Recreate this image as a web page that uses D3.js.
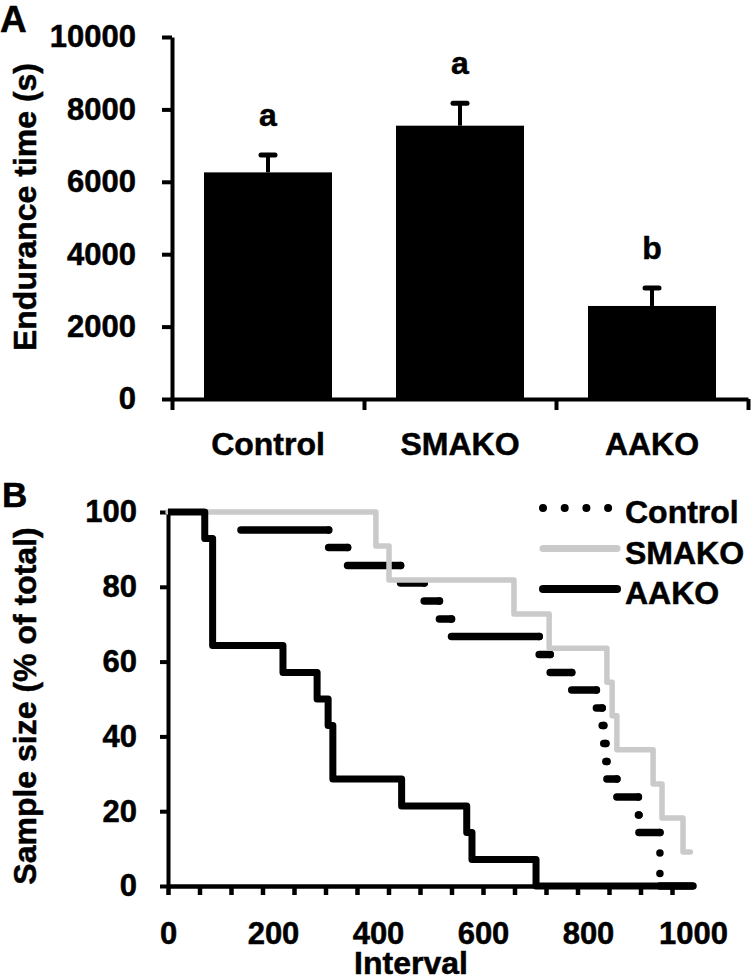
<!DOCTYPE html>
<html>
<head>
<meta charset="utf-8">
<script src="https://cdn.jsdelivr.net/npm/d3@7"></script>
<style>
  body { margin: 0; background: #ffffff; }
  svg { display: block; }
  text { font-family: "Liberation Sans", Arial, Helvetica, sans-serif; font-weight: bold; fill: #000; stroke: #000; stroke-width: 0.5px; }
</style>
</head>
<body>
<script>
// ---------- Panel A data ----------
const categories = ["Control", "SMAKO", "AAKO"];
const meanEndurance = [6260, 7550, 2570];
const errEndurance = [510, 650, 525];
const sigLetters = ["a", "a", "b"];
const yTicksA = [0, 2000, 4000, 6000, 8000, 10000];

// ---------- Panel B data (step curves: interval at which each level starts, % remaining) ----------
const controlTime = [139, 306, 342, 443, 488, 517, 540, 707, 728, 769, 816, 827, 830, 834, 836, 855, 896, 897, 937];
const controlPct  = [95.2, 90.5, 85.7, 81.0, 76.2, 71.4, 66.7, 61.9, 57.1, 52.4, 47.6, 42.9, 38.1, 33.3, 28.6, 23.8, 19.0, 14.3, 0];
const controlEnd = 1000;
const smakoTime = [0, 396, 421, 659, 726, 836, 846, 855, 924, 941, 981];
const smakoPct  = [100, 90.9, 81.8, 72.7, 63.6, 54.5, 45.5, 36.4, 27.3, 18.2, 9.1];
const smakoEnd = 995;
const aakoTime = [0, 70, 85, 219, 284, 305, 314, 445, 569, 579, 701];
const aakoPct  = [100, 92.9, 64.3, 57.1, 50, 42.9, 28.6, 21.4, 14.3, 7.1, 0];
const aakoEnd = 1000;
const xTickMarksB = [0, 60, 120, 180, 240, 300, 360, 420, 480, 540, 600, 660, 720, 780, 840, 900, 960];
const xTickLabelsB = [0, 200, 400, 600, 800, 1000];
const yTicksB = [0, 20, 40, 60, 80, 100];
const legendLabels = ["Control", "SMAKO", "AAKO"];

const GREY = "#cacaca";

const svg = d3.select("body").append("svg").attr("width", 753).attr("height", 979);

function styleAxis(g, fontSize, sw) {
  g.attr("font-family", null).attr("font-size", null);
  g.selectAll("path.domain").attr("stroke", "#000").attr("stroke-width", sw);
  g.selectAll(".tick line").attr("stroke", "#000").attr("stroke-width", sw);
  g.selectAll(".tick text").style("font-size", fontSize + "px").attr("fill", "#000");
}

// ================= Panel A =================
const xA = d3.scaleBand().domain(categories).range([172, 748]).paddingInner(1/3).paddingOuter(1/6);
const xAIdx = d3.scaleLinear().domain([0, categories.length]).range([172, 748]);
const yA = d3.scaleLinear().domain([0, 10000]).range([399, 37]);

const gA = svg.append("g");

// bars
gA.selectAll("rect.bar").data(categories).enter().append("rect")
  .attr("class", "bar")
  .attr("x", d => xA(d))
  .attr("y", (d, i) => yA(meanEndurance[i]))
  .attr("width", xA.bandwidth())
  .attr("height", (d, i) => yA(0) - yA(meanEndurance[i]))
  .attr("fill", "#000");

// error bars
gA.selectAll("line.err").data(categories).enter().append("line")
  .attr("x1", d => xA(d) + xA.bandwidth() / 2)
  .attr("x2", d => xA(d) + xA.bandwidth() / 2)
  .attr("y1", (d, i) => yA(meanEndurance[i]))
  .attr("y2", (d, i) => yA(meanEndurance[i] + errEndurance[i]))
  .attr("stroke", "#000").attr("stroke-width", 4);
gA.selectAll("line.cap").data(categories).enter().append("line")
  .attr("x1", d => xA(d) + xA.bandwidth() / 2 - 7)
  .attr("x2", d => xA(d) + xA.bandwidth() / 2 + 7)
  .attr("y1", (d, i) => yA(meanEndurance[i] + errEndurance[i]) + 1)
  .attr("y2", (d, i) => yA(meanEndurance[i] + errEndurance[i]) + 1)
  .attr("stroke", "#000").attr("stroke-width", 5).attr("stroke-linecap", "round");

// significance letters
gA.selectAll("text.sig").data(categories).enter().append("text")
  .attr("x", d => xA(d) + xA.bandwidth() / 2)
  .attr("y", (d, i) => yA(meanEndurance[i] + errEndurance[i]) - 28)
  .attr("text-anchor", "middle")
  .style("font-size", "32px")
  .text((d, i) => sigLetters[i]);

// y axis
const yAxisA = gA.append("g").attr("transform", "translate(172,0)")
  .call(d3.axisLeft(yA).tickValues(yTicksA).tickSize(10).tickPadding(26).tickSizeOuter(0).tickFormat(d3.format("d")));
styleAxis(yAxisA, 31, 4);

// x axis (line + boundary ticks)
const xAxisA = gA.append("g").attr("transform", "translate(0,399)")
  .call(d3.axisBottom(xAIdx).tickValues(d3.range(0, categories.length + 1)).tickSize(11).tickSizeOuter(0).tickFormat(""));
styleAxis(xAxisA, 31, 4);
const xLabA = gA.append("g").attr("transform", "translate(0,399)")
  .call(d3.axisBottom(xA).tickSize(0).tickPadding(33));
xLabA.select("path.domain").remove();
styleAxis(xLabA, 32, 4);

gA.append("text").attr("transform", "translate(36,207) rotate(-90)")
  .attr("text-anchor", "middle").style("font-size", "32px").text("Endurance time (s)");
svg.append("text").attr("x", 0).attr("y", 32).style("font-size", "37px").text("A");

// ================= Panel B =================
const xB = d3.scaleLinear().domain([0, 1000]).range([168, 693]);
const yB = d3.scaleLinear().domain([0, 100]).range([886, 512]);
const gB = svg.append("g");

// axes
const yAxisB = gB.append("g").attr("transform", "translate(168,0)")
  .call(d3.axisLeft(yB).tickValues(yTicksB).tickSize(8).tickPadding(23).tickSizeOuter(0));
styleAxis(yAxisB, 31, 4);
const xAxisB = gB.append("g").attr("transform", "translate(0,886)")
  .call(d3.axisBottom(xB).tickValues(xTickMarksB).tickSize(9).tickSizeOuter(0).tickFormat(""));
styleAxis(xAxisB, 31, 4.5);
const xLabB = gB.append("g").attr("transform", "translate(0,886)")
  .call(d3.axisBottom(xB).tickValues(xTickLabelsB).tickSize(0).tickPadding(36).tickFormat(d3.format("d")));
xLabB.select("path.domain").remove();
styleAxis(xLabB, 31, 4);

function stepPoints(times, pcts, end) {
  const pts = times.map((t, i) => [t, pcts[i]]);
  pts.push([end, pcts[pcts.length - 1]]);
  return pts;
}
const stepLine = d3.line().x(d => xB(d[0])).y(d => yB(d[1])).curve(d3.curveStepAfter);

// Control: horizontal runs solid, drops dotted
const gCtrl = gB.append("g");
controlTime.forEach((t, i) => {
  const tEnd = i < controlTime.length - 1 ? controlTime[i + 1] : controlEnd;
  gCtrl.append("line")
    .attr("x1", xB(t)).attr("x2", xB(tEnd))
    .attr("y1", yB(controlPct[i])).attr("y2", yB(controlPct[i]))
    .attr("stroke", "#000").attr("stroke-width", 7.5).attr("stroke-linecap", "round");
  if (i < controlTime.length - 1) {
    gCtrl.append("line")
      .attr("x1", xB(tEnd)).attr("x2", xB(tEnd))
      .attr("y1", yB(controlPct[i])).attr("y2", yB(controlPct[i + 1]))
      .attr("stroke", "#000").attr("stroke-width", 7.5).attr("stroke-linecap", "round")
      .attr("stroke-dasharray", "0,20.5");
  }
});

// SMAKO
gB.append("path").attr("d", stepLine(stepPoints(smakoTime, smakoPct, smakoEnd)))
  .attr("fill", "none").attr("stroke", GREY).attr("stroke-width", 5.5)
  .attr("stroke-linejoin", "round").attr("stroke-linecap", "round");

// AAKO
gB.append("path").attr("d", stepLine(stepPoints(aakoTime, aakoPct, aakoEnd)))
  .attr("fill", "none").attr("stroke", "#000").attr("stroke-width", 7)
  .attr("stroke-linejoin", "round");

// legend
const legStyles = [
  { stroke: "#000", w: 8, dash: "0,21.7", x1: 543, x2: 610 },
  { stroke: GREY, w: 7, dash: null, x1: 543, x2: 617 },
  { stroke: "#000", w: 8, dash: null, x1: 543, x2: 617 }
];
const leg = gB.append("g");
legendLabels.forEach((lab, i) => {
  const cy = 508 + i * 40.5;
  const s = legStyles[i];
  const ln = leg.append("line").attr("x1", s.x1).attr("x2", s.x2).attr("y1", cy).attr("y2", cy)
    .attr("stroke", s.stroke).attr("stroke-width", s.w).attr("stroke-linecap", "round");
  if (s.dash) ln.attr("stroke-dasharray", s.dash);
  leg.append("text").attr("x", 625).attr("y", cy + 15).style("font-size", "32px").text(lab);
});

gB.append("text").attr("x", 411).attr("y", 974).attr("text-anchor", "middle")
  .style("font-size", "32px").text("Interval");
gB.append("text").attr("transform", "translate(36,706) rotate(-90)")
  .attr("text-anchor", "middle").style("font-size", "32px").text("Sample size (% of total)");
svg.append("text").attr("x", 2).attr("y", 507).style("font-size", "35px").text("B");
</script>
</body>
</html>
